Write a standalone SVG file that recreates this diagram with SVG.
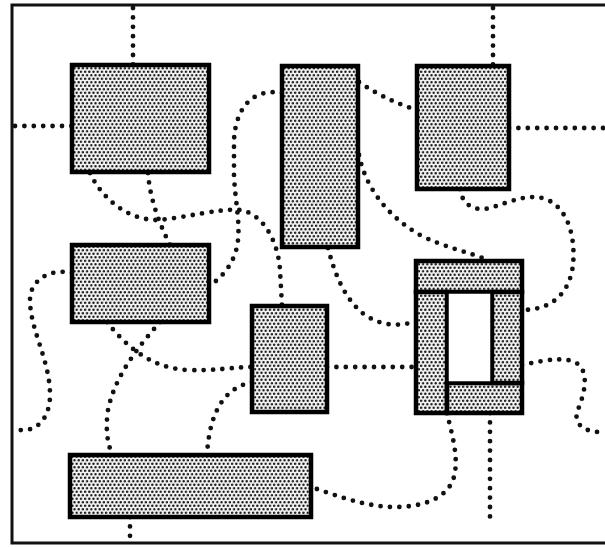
<svg xmlns="http://www.w3.org/2000/svg" width="605" height="547" viewBox="0 0 605 547">
<defs>
<pattern id="dots" width="4.2" height="7" patternUnits="userSpaceOnUse">
<rect width="4.2" height="7" fill="#f2f2f2"/>
<circle cx="1.05" cy="1.75" r="1.25" fill="#1a1a1a"/>
<circle cx="3.15" cy="5.25" r="1.25" fill="#1a1a1a"/>
</pattern>
</defs>
<style>
.node{fill:url(#dots);stroke:#000;stroke-width:4.5}
.hole{fill:#fff;stroke:#000;stroke-width:3.5}
.c{fill:none;stroke:#111;stroke-width:4.8;stroke-linecap:round;stroke-dasharray:0 9.4}
.border{fill:none;stroke:#111;stroke-width:3}
</style>
<rect width="605" height="547" fill="#fff"/>
<path class="border" d="M605,5 H12 V543 H605"/>
<g id="connectors">
<path class="c" d="M133,8 V65"/>
<path class="c" d="M15,126 H72"/>
<path class="c" d="M493,8 V66"/>
<path class="c" d="M509,128 H605"/>
<path class="c" d="M359,82 Q385,100 417,110"/>
<path class="c" d="M282,93 C255,88 236,105 234,140 L234,175 C235,200 240,220 238,240 C236,262 222,278 209,286"/>
<path class="c" d="M148,173 C150,200 160,225 170,245"/>
<path class="c" d="M90,173 C100,195 125,220 157,220 C185,218 220,208 240,210 C262,213 278,240 280,270 L282,306"/>
<path class="c" d="M359,155 C365,185 385,215 420,235 C445,248 470,252 490,261"/>
<path class="c" d="M460,189 C462,205 475,212 490,208 C510,202 530,192 548,200 C572,212 575,245 573,265 C570,290 555,310 522,310"/>
<path class="c" d="M328,248 C335,275 345,300 365,315 C385,328 400,325 416,322"/>
<path class="c" d="M327,367 H416"/>
<path class="c" d="M448,367 C468,362 474,350 475,335 C476,322 482,318 492,318"/>
<path class="c" d="M522,365 C545,360 570,355 580,366 C590,378 582,400 577,412 C574,425 585,433 605,432"/>
<path class="c" d="M447,413 C452,435 460,460 453,480 C445,500 420,507 395,507 C365,507 335,495 311,487"/>
<path class="c" d="M490,413 V523"/>
<path class="c" d="M130,517 V541"/>
<path class="c" d="M72,273 C50,268 30,280 30,300 C30,330 50,360 50,395 C50,420 35,432 20,430 L15,427"/>
<path class="c" d="M107,322 C125,345 150,368 187,370 C215,371 235,367 252,367"/>
<path class="c" d="M160,322 C140,345 115,375 108,410 C105,430 108,445 112,454"/>
<path class="c" d="M252,382 C225,388 210,410 207,454"/>
</g>
<g id="n1"><rect class="node" x="72" y="65" width="137" height="107"/></g>
<g id="n2"><rect class="node" x="282" y="66" width="76" height="181"/></g>
<g id="n3"><rect class="node" x="417" y="66" width="92" height="123"/></g>
<g id="n4"><rect class="node" x="72" y="245" width="137" height="77"/></g>
<g id="n5"><rect class="node" x="252" y="306" width="75" height="106"/></g>
<g id="n6"><rect class="node" x="70" y="455" width="241" height="62"/></g>
<g id="n7">
<rect class="node" x="416" y="261" width="106" height="31"/>
<rect class="node" x="416" y="292" width="31" height="121"/>
<rect class="node" x="447" y="383" width="75" height="30"/>
<rect class="node" x="492" y="292" width="30" height="91"/>
<rect class="hole" x="447" y="292" width="45" height="91"/>
</g>
</svg>
